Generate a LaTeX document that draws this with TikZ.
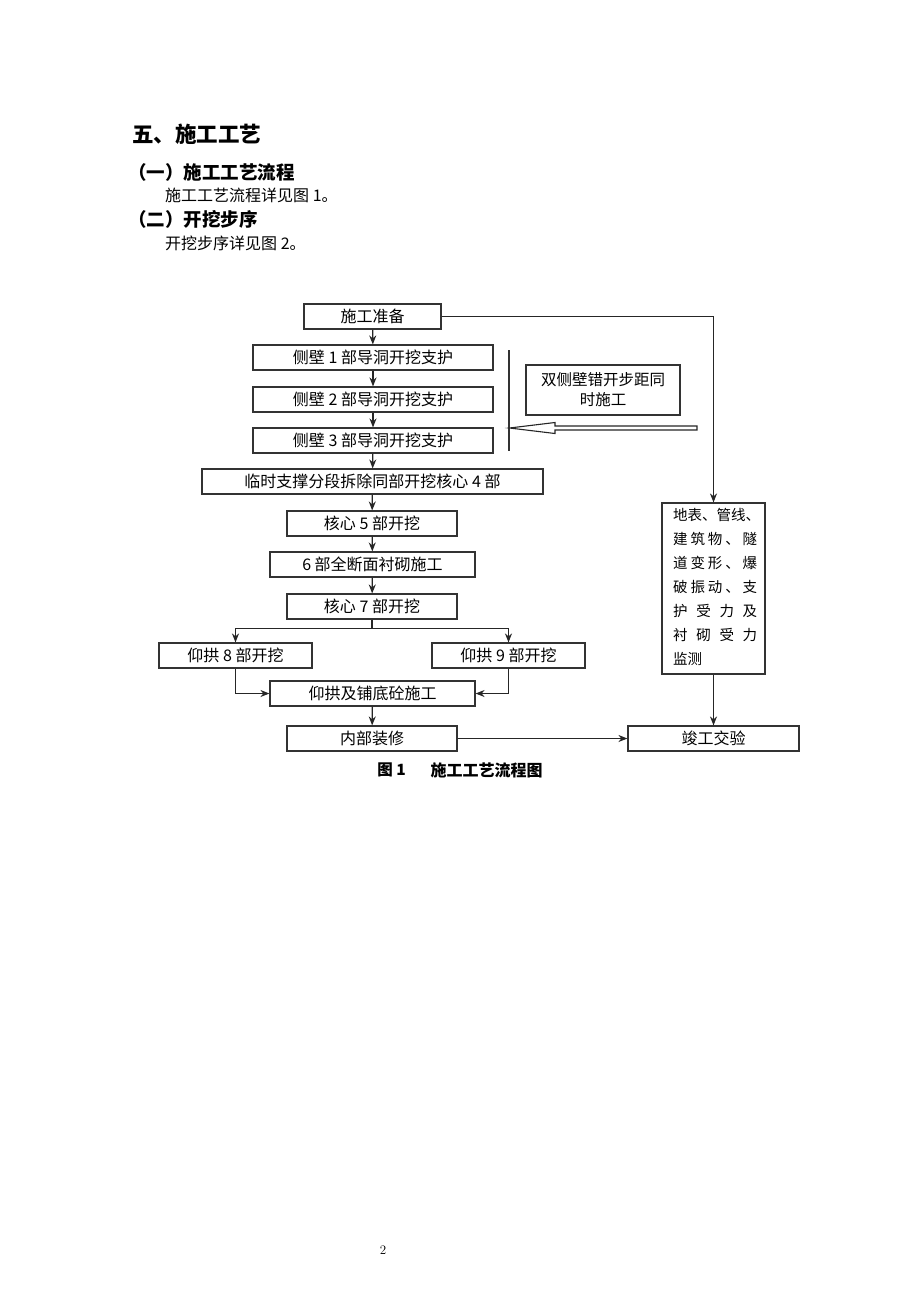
\documentclass[tikz,border=0pt]{standalone}
\usepackage{fontspec}
\setmainfont{Noto Sans CJK SC}
\newfontfamily\lmfont{Latin Modern Roman}
\usetikzlibrary{arrows.meta}
\tikzset{
  box/.style={draw=black!80, line width=1.15pt, inner sep=0pt, minimum height=25pt, font=\fontsize{16}{18}\selectfont},
  arr/.style={draw=black!85, line width=1.3pt, -{Stealth[length=9pt,width=7pt]}},
  ln/.style={draw=black!80, line width=1.3pt},
  txt/.style={inner sep=0pt, anchor=west},
}
\begin{document}
\begin{tikzpicture}[x=1pt,y=-1pt]
\useasboundingbox[fill=white] (0,0) rectangle (920,1302);
% headings
\node[txt, font=\fontsize{21.5}{24}\selectfont\bfseries] (h0) at (132,134) {五、施工工艺};
\node[txt, font=\fontsize{18.5}{20}\selectfont\bfseries] (h1) at (128,172) {（一）施工工艺流程};
\node[txt, font=\fontsize{16}{18}\selectfont] (t1) at (165,195) {施工工艺流程详见图 1。};
\node[txt, font=\fontsize{18.5}{20}\selectfont\bfseries] (h2) at (128,219) {（二）开挖步序};
\node[txt, font=\fontsize{16}{18}\selectfont] (t2) at (165,243) {开挖步序详见图 2。};
% boxes
\node[box, minimum width=137pt] (prep) at (372.5,316.5) {施工准备};
\node[box, minimum width=240pt] (s1) at (373,357.5) {侧壁 1 部导洞开挖支护};
\node[box, minimum width=240pt] (s2) at (373,399.5) {侧壁 2 部导洞开挖支护};
\node[box, minimum width=240pt] (s3) at (373,440.5) {侧壁 3 部导洞开挖支护};
\node[box, minimum width=341pt] (c4) at (372.5,481.5) {临时支撑分段拆除同部开挖核心 4 部};
\node[box, minimum width=170pt] (c5) at (372,523.5) {核心 5 部开挖};
\node[box, minimum width=205pt] (c6) at (372.5,564.5) {6 部全断面衬砌施工};
\node[box, minimum width=170pt] (c7) at (372,606.5) {核心 7 部开挖};
\node[box, minimum width=153pt] (a8) at (235.5,655.5) {仰拱 8 部开挖};
\node[box, minimum width=153pt] (a9) at (508.5,655.5) {仰拱 9 部开挖};
\node[box, minimum width=205pt] (inv) at (372.5,693.5) {仰拱及铺底砼施工};
\node[box, minimum width=170pt] (dec) at (372,738.5) {内部装修};
\node[box, minimum width=171pt] (done) at (713.5,738.5) {竣工交验};
\node[box, minimum width=103pt, minimum height=171pt] (mon) at (713.5,588.5) {};
\node[box, minimum width=154pt, minimum height=50pt, align=center, font=\fontsize{15.5}{20}\selectfont] (side) at (603,390) {双侧壁错开步距同\\时施工};
% monitoring text
\node[inner sep=0pt, anchor=north west, align=left, font=\fontsize{14.5}{24}\selectfont] (montxt) at (673,508) {%
\makebox[84pt][l]{地表、管线、}\\
\makebox[84pt]{建\hfill 筑\hfill 物\hfill 、\hfill 隧}\\
\makebox[84pt]{道\hfill 变\hfill 形\hfill 、\hfill 爆}\\
\makebox[84pt]{破\hfill 振\hfill 动\hfill 、\hfill 支}\\
\makebox[84pt]{护\hfill 受\hfill 力\hfill 及}\\
\makebox[84pt]{衬\hfill 砌\hfill 受\hfill 力}\\
\makebox[84pt][l]{监测}};
% arrows
\draw[arr] (prep) -- (s1);
\draw[arr] (s1) -- (s2);
\draw[arr] (s2) -- (s3);
\draw[arr] (s3) -- (c4);
\draw[arr] (c4) -- (c5);
\draw[arr] (c5) -- (c6);
\draw[arr] (c6) -- (c7);
\draw[arr] (c7.south) -- ++(0,9) -| (a8.north);
\draw[arr] (c7.south) -- ++(0,9) -| (a9.north);
\draw[arr] (a8.south) |- (inv.west);
\draw[arr] (a9.south) |- (inv.east);
\draw[arr] (inv) -- (dec);
\draw[arr] (dec) -- (done);
\draw[arr] (prep.east) -| (mon.north);
\draw[arr] (mon) -- (done);
% bracket line and hollow arrow
\coordinate (vt) at (509,350);
\coordinate (vb) at (509,451);
\draw[ln] (vt) -- (vb);
\draw[draw=black!85, line width=1.1pt, fill=white] (697,426) -- (555,426) -- (555,422.5) -- (509.5,428) -- (555,433.5) -- (555,430) -- (697,430) -- cycle;
% caption
\node[inner sep=0pt, font=\fontsize{15.5}{18}\selectfont\bfseries] (cap1) at (391.5,770) {图 1};
\node[inner sep=0pt, font=\fontsize{16}{18}\selectfont\bfseries] (cap2) at (486.5,770) {施工工艺流程图};
% page number
\node[inner sep=0pt, font=\lmfont\fontsize{13}{15}\selectfont] (pg) at (383,1250) {2};
\end{tikzpicture}
\end{document}
